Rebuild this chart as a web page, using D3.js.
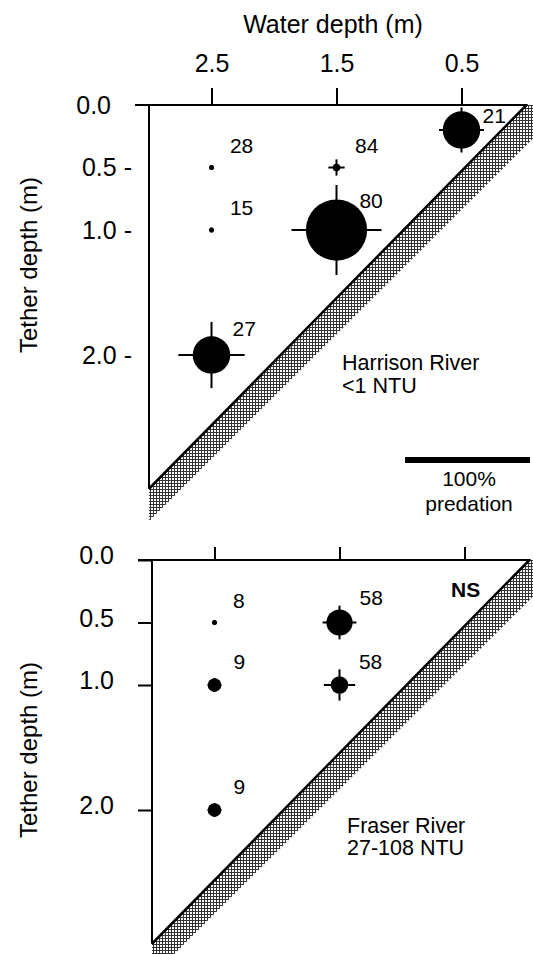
<!DOCTYPE html>
<html>
<head>
<meta charset="utf-8">
<script src="https://cdn.jsdelivr.net/npm/d3@7"></script>
<style>
  body { margin: 0; background: #fff; }
  svg { display: block; font-family: "Liberation Sans", Arial, sans-serif; }
</style>
</head>
<body>
<svg id="graph"></svg>
<script>
// ---- data ----
var waterTicks = [2.5, 1.5, 0.5];          // water depth (m)
var tetherTicks = [0.0, 0.5, 1.0, 2.0];    // tether depth (m)

// Harrison River, <1 NTU
var harrisonWater  = [2.5, 2.5, 2.5, 1.5, 1.5, 0.5];
var harrisonTether = [0.5, 1.0, 2.0, 0.5, 1.0, 0.2];
var harrisonPred   = [4, 4, 30, 6, 49, 30];      // % predation (circle diameter)
var harrisonPredHi = [4, 4, 53, 13, 72, 36];     // crosshair extent (%)
var harrisonN      = [28, 15, 27, 84, 80, 21];

// Fraser River, 27-108 NTU
var fraserWater  = [2.5, 2.5, 2.5, 1.5, 1.5];
var fraserTether = [0.5, 1.0, 2.0, 0.5, 1.0];
var fraserPred   = [4, 11, 11, 21, 14];
var fraserPredHi = [4, 11, 11, 27, 25];
var fraserN      = [8, 9, 9, 58, 58];

// shoreline (water depth = tether depth) and the hatched bottom band
var shoreWater  = [3.0, -0.02];
var shoreTether = [3.07, 0];
var bandWater   = [3.0, -0.02, -0.34, 3.0];
var bandTether  = [3.07, 0, 0, 3.33];

/* BOILERPLATE */
var svg = d3.select("#graph")
    .attr("width", 533)
    .attr("height", 954);

var defs = svg.append("defs");
var pat = defs.append("pattern")
    .attr("id", "hatch")
    .attr("width", 3).attr("height", 3)
    .attr("patternUnits", "userSpaceOnUse");
pat.append("rect").attr("width", 3).attr("height", 3).attr("fill", "#fff");
pat.append("path").attr("d", "M0,0.5H3M0.5,0V3")
    .attr("stroke", "#333").attr("stroke-width", 1);

var x = d3.scaleLinear().domain([3.0, 0]).range([149, 524]),
    y = d3.scaleLinear().domain([0, 3]).range([105, 480]),
    pct = d3.scaleLinear().domain([0, 100]).range([0, 125]);

function zip(a, b) { return a.map(function(v, i) { return [v, b[i]]; }); }

function drawPanel(g, pts, top) {
  // hatched band
  g.append("path")
    .datum(zip(bandWater, bandTether))
    .attr("d", d3.line().x(function(d) { return x(d[0]); }).y(function(d) { return y(d[1]); }))
    .attr("fill", "url(#hatch)");

  g.append("path")
    .datum(zip(shoreWater, shoreTether))
    .attr("d", d3.line().x(function(d) { return x(d[0]); }).y(function(d) { return y(d[1]); }))
    .attr("stroke", "#000").attr("stroke-width", 2.5).attr("fill", "none");

  // axis lines
  g.append("line")
    .attr("x1", x(3.0) - 14).attr("x2", x(-0.03))
    .attr("y1", y(0)).attr("y2", y(0))
    .attr("stroke", "#000").attr("stroke-width", 2);
  g.append("line")
    .attr("x1", x(3.0)).attr("x2", x(3.0))
    .attr("y1", y(0)).attr("y2", y(3.07))
    .attr("stroke", "#000").attr("stroke-width", 2);

  // top axis ticks
  var xaxis = g.append("g")
    .attr("transform", "translate(0," + y(0) + ")")
    .call(d3.axisTop(x).tickValues(waterTicks)
      .tickSizeInner(top ? 17 : 13).tickSizeOuter(0).tickPadding(16)
      .tickFormat(top ? d3.format(".1f") : function() { return ""; }));
  xaxis.select(".domain").remove();
  xaxis.selectAll("line").attr("stroke-width", 2);
  xaxis.selectAll("text").attr("font-size", 25).attr("fill", "#000")
    .attr("font-family", "Liberation Sans, Arial, sans-serif");

  // left axis ticks
  var yaxis = g.append("g")
    .attr("transform", "translate(" + x(3.0) + ",0)")
    .call(d3.axisLeft(y).tickValues(tetherTicks)
      .tickSizeInner(top ? 0 : 14).tickSizeOuter(0).tickPadding(top ? 17 : 24)
      .tickFormat(function(d) {
        var s = d3.format(".1f")(d);
        return (top && d > 0) ? s + " -" : s;
      }));
  yaxis.select(".domain").remove();
  yaxis.selectAll("line").attr("stroke-width", 2);
  yaxis.selectAll("text").attr("font-size", 25).attr("fill", "#000")
    .attr("dy", top ? "0.32em" : "0.15em")
    .attr("font-family", "Liberation Sans, Arial, sans-serif");
  if (top) yaxis.selectAll("text").filter(function(d) { return d === 0; }).attr("x", -38);

  // crosshairs
  var marks = g.selectAll(".pt").data(pts).enter().append("g").attr("class", "pt");
  marks.append("line")
    .attr("x1", function(d) { return x(d.w) - pct(d.hi) / 2; })
    .attr("x2", function(d) { return x(d.w) + pct(d.hi) / 2; })
    .attr("y1", function(d) { return y(d.t); })
    .attr("y2", function(d) { return y(d.t); })
    .attr("stroke", "#000").attr("stroke-width", 2);
  marks.append("line")
    .attr("x1", function(d) { return x(d.w); })
    .attr("x2", function(d) { return x(d.w); })
    .attr("y1", function(d) { return y(d.t) - pct(d.hi) / 2; })
    .attr("y2", function(d) { return y(d.t) + pct(d.hi) / 2; })
    .attr("stroke", "#000").attr("stroke-width", 2);
  marks.append("circle")
    .attr("cx", function(d) { return x(d.w); })
    .attr("cy", function(d) { return y(d.t); })
    .attr("r", function(d) { return pct(d.p) / 2; })
    .attr("fill", "#000");
  marks.append("text")
    .attr("x", function(d) { return x(d.w) + 18 + pct(d.p) * 0.08; })
    .attr("y", function(d) {
      var r = pct(d.p) / 2;
      return Math.max(y(d.t) - 14 - r / 4, y(0) + 18);
    })
    .attr("font-size", 21)
    .text(function(d) { return d.n; });
}

function points(w, t, p, hi, n) {
  return w.map(function(v, i) { return {w: v, t: t[i], p: p[i], hi: hi[i], n: n[i]}; });
}

var g1 = svg.append("g");
drawPanel(g1, points(harrisonWater, harrisonTether, harrisonPred, harrisonPredHi, harrisonN), true);

var g2 = svg.append("g").attr("transform", "translate(3,455)");
drawPanel(g2, points(fraserWater, fraserTether, fraserPred, fraserPredHi, fraserN), false);

// titles
svg.append("text").attr("x", 333).attr("y", 33).attr("text-anchor", "middle")
  .attr("font-size", 25).text("Water depth (m)");
[265, 750].forEach(function(cy) {
  svg.append("text")
    .attr("transform", "translate(37," + cy + ") rotate(-90)")
    .attr("text-anchor", "middle").attr("font-size", 24)
    .text("Tether depth (m)");
});

// river labels
g1.append("text").attr("x", 342).attr("y", 370).attr("font-size", 21.5).text("Harrison River");
g1.append("text").attr("x", 342).attr("y", 393).attr("font-size", 21.5).text("<1 NTU");
g2.append("text").attr("x", 344).attr("y", 378).attr("font-size", 21.5).text("Fraser River");
g2.append("text").attr("x", 344).attr("y", 400).attr("font-size", 21.5).text("27-108 NTU");
g2.append("text").attr("x", 448).attr("y", 142).attr("font-size", 21)
  .attr("font-weight", "bold").text("NS");

// 100% predation scale bar
g1.append("rect").attr("x", 405).attr("y", 457).attr("width", pct(100)).attr("height", 6).attr("fill", "#000");
g1.append("text").attr("x", 469).attr("y", 486).attr("text-anchor", "middle").attr("font-size", 21).text("100%");
g1.append("text").attr("x", 469).attr("y", 511).attr("text-anchor", "middle").attr("font-size", 21).text("predation");
</script>
</body>
</html>
